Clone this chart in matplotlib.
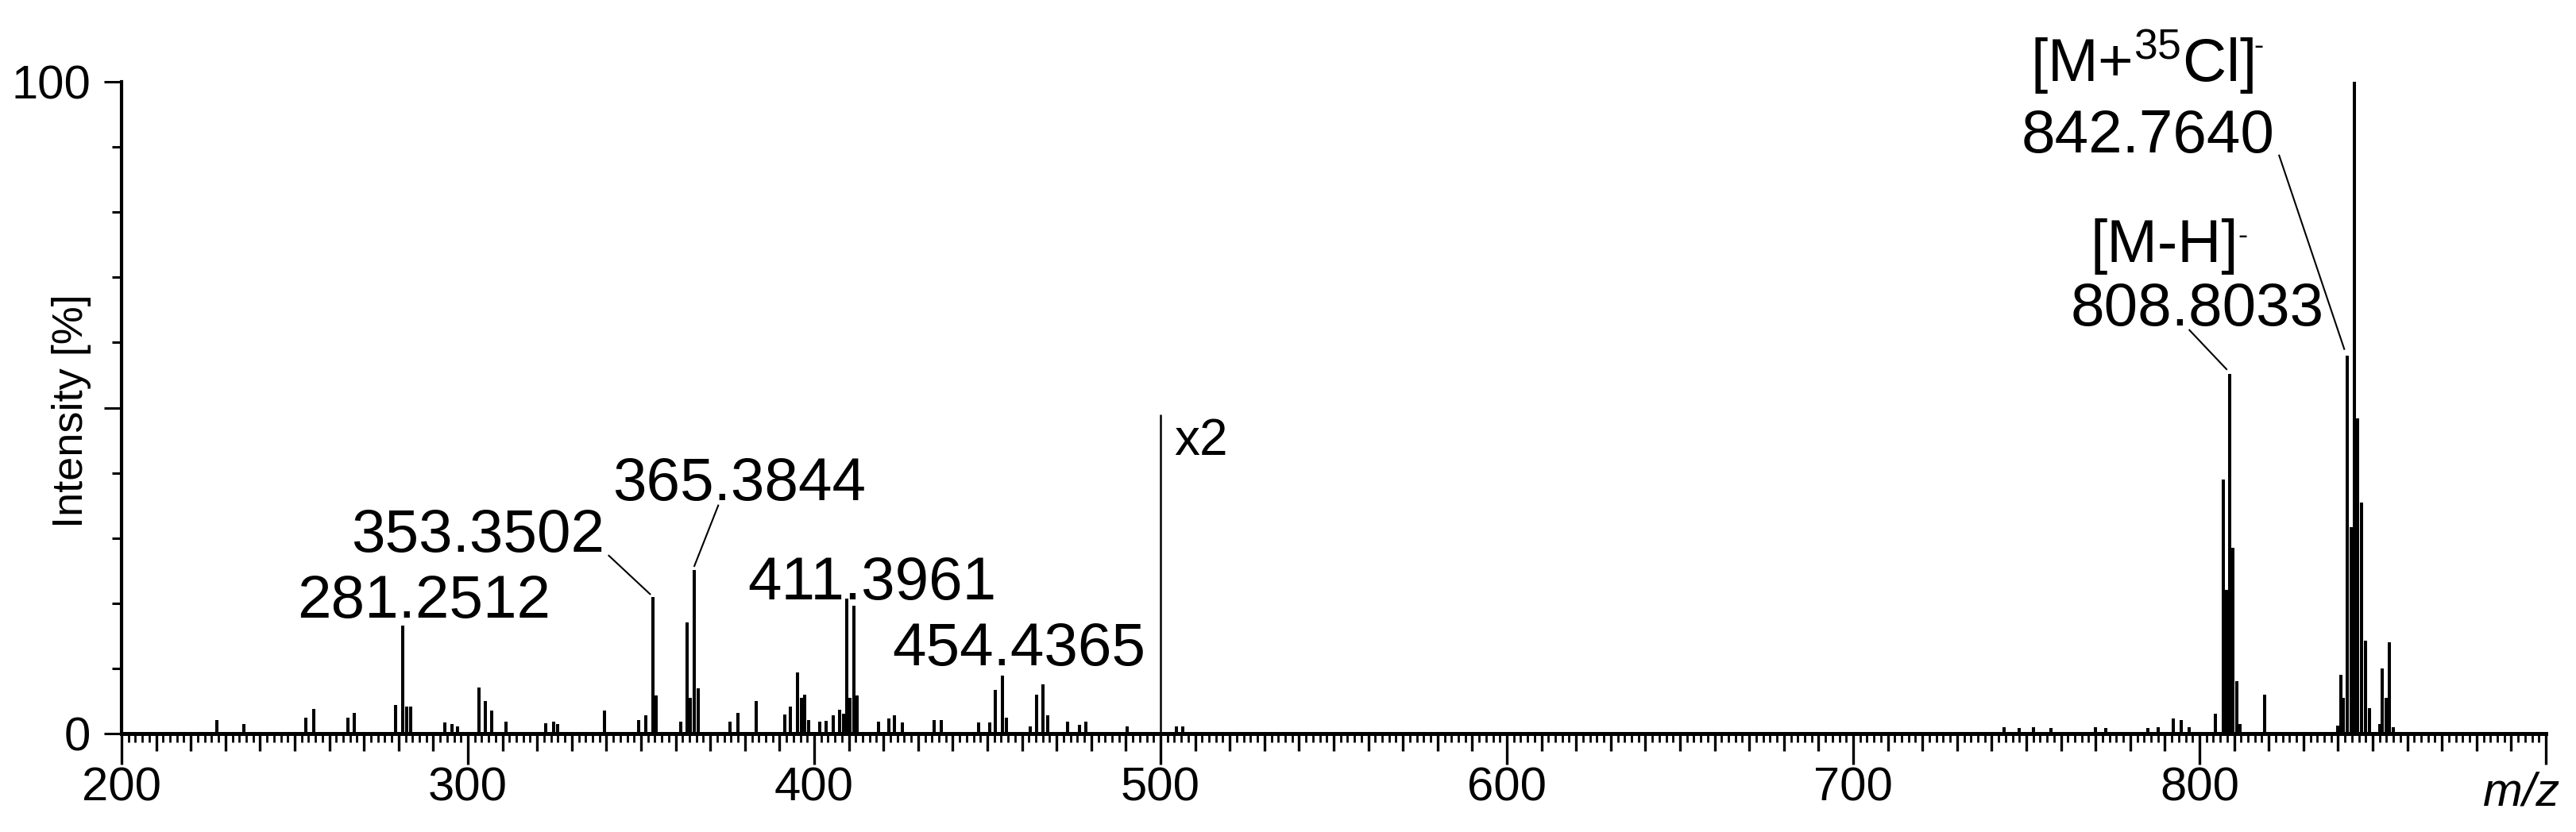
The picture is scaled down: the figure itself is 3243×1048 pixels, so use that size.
import matplotlib
matplotlib.use('Agg')
import matplotlib.pyplot as plt
from matplotlib.ticker import MultipleLocator, FixedLocator, FuncFormatter

plt.rcParams['font.family'] = ['Liberation Sans', 'DejaVu Sans']
plt.rcParams['mathtext.fontset'] = 'custom'
plt.rcParams['mathtext.rm'] = 'Liberation Sans'
plt.rcParams['mathtext.it'] = 'Liberation Sans:italic'

# peak list: m/z and relative intensity [%]
# (the part above m/z 500 is shown magnified x2)
mz = [227.5, 235.3, 253.3, 255.4, 265.3, 267.3, 279.2, 281.25, 282.4, 283.4,
      293.4, 295.3, 297.0, 303.1, 305.1, 306.9, 311.1, 322.5, 324.8, 326.0,
      339.5, 349.4, 351.3, 353.35, 354.4, 361.5, 363.3, 364.3, 365.38, 366.4,
      375.8, 377.9, 383.2, 391.4, 393.1, 395.2, 396.4, 397.2, 398.5, 401.6,
      403.5, 405.4, 407.4, 408.5, 409.4, 410.3, 411.4, 412.3, 418.5, 421.5,
      423.2, 425.4, 434.6, 436.7, 447.5, 450.6, 452.3, 454.44, 455.6, 462.4,
      464.2, 466.0, 467.4, 473.1, 476.5, 478.5, 490.4, 504.5, 506.4,
      743.5, 748.0, 752.0, 757.0, 770.0, 773.0, 785.0, 788.0, 792.5, 794.8,
      797.0, 804.6, 806.9, 807.7, 808.8, 809.7, 810.8, 811.7, 818.8, 839.9,
      840.8, 841.6, 842.76, 843.9, 844.8, 845.7, 846.9, 847.9, 849.0, 852.0,
      852.8, 853.8, 854.9, 856.0]
intensity = [2.1, 1.5, 2.4, 3.8, 2.4, 3.2, 4.4, 16.6, 4.1, 4.1,
             1.7, 1.5, 1.1, 7.1, 5.0, 3.5, 1.8, 1.6, 1.8, 1.5,
             3.5, 2.1, 2.8, 20.9, 5.8, 1.8, 17.0, 5.5, 25.1, 7.0,
             1.8, 3.2, 5.0, 2.9, 4.1, 9.4, 5.5, 6.0, 2.1, 1.8,
             2.0, 2.8, 3.7, 3.1, 20.7, 5.5, 19.6, 5.8, 1.8, 2.3,
             2.8, 1.7, 2.1, 2.1, 1.7, 1.7, 6.7, 8.9, 2.4, 1.1,
             6.0, 7.6, 2.8, 1.8, 1.3, 1.8, 1.1, 1.1, 1.1,
             1.0, 0.9, 1.0, 0.9, 1.0, 0.9, 0.8, 1.0, 2.3, 2.1,
             1.0, 3.0, 39.0, 22.0, 55.2, 28.5, 8.0, 1.5, 6.0, 1.2,
             9.0, 5.5, 58.0, 31.7, 100.0, 48.4, 35.5, 14.2, 3.9, 1.5,
             10.0, 5.5, 14.0, 1.0]

# annotated peaks
peak_labels = ['281.2512', '353.3502', '365.3844', '411.3961', '454.4365',
               '808.8033', '842.7640']
label_x = [287.2, 302.8, 378.3, 416.8, 459.1, 799.4, 785.1]
label_y = [17.8, 27.9, 35.8, 20.6, 10.5, 62.6, 89.2]

ion_labels = ['[M-H]', '[M+$^{35}$Cl]']
ion_x = [789.8, 783.5]
ion_y = [72.3, 100.1]

# leader lines (label -> peak)
leader_x = [(340.7, 352.6), (372.3, 365.4), (797.1, 807.8), (823.0, 841.8)]
leader_y = [(27.3, 21.4), (35.0, 25.7), (61.9, 55.9), (88.7, 59.0)]

scale_mz = 500
scale_height = 49

fig = plt.figure(figsize=(32.43, 10.48), dpi=100)
ax = fig.add_axes([153 / 3243, 124 / 1048, 3052 / 3243, 821 / 1048])

ax.vlines(mz, 0, intensity, color='black', lw=2.9)
ax.vlines(scale_mz, 0, scale_height, color='black', lw=1.8)
ax.text(scale_mz + 4, 42.8, 'x2', fontsize=46, ha='left', va='baseline')

for t, x, y in zip(peak_labels, label_x, label_y):
    ax.text(x, y, t, fontsize=55, ha='center', va='baseline')
for t, x, y in zip(ion_labels, ion_x, ion_y):
    tx = ax.text(x, y, t, fontsize=55, ha='center', va='baseline', clip_on=False)
    # small superscript charge sign
    ax.annotate('-', xy=(1.0, 0.93), xycoords=tx, fontsize=26,
                ha='left', va='top', annotation_clip=False)
for xs, ys in zip(leader_x, leader_y):
    ax.plot(xs, ys, color='black', lw=1.5)

ax.set_xlim(200, 900)
ax.set_ylim(0, 100)
for s in ['top', 'right']:
    ax.spines[s].set_visible(False)
ax.spines['left'].set_linewidth(3)
ax.spines['bottom'].set_linewidth(3.6)

ax.xaxis.set_major_locator(MultipleLocator(100))
ax.xaxis.set_major_formatter(FuncFormatter(lambda v, p: '' if v >= 900 else '%d' % v))
ax.xaxis.set_minor_locator(MultipleLocator(10))
ax.tick_params(axis='x', which='major', length=28, width=2.4, labelsize=43, pad=2)
ax.tick_params(axis='x', which='minor', length=15.5, width=2.4)

ax.yaxis.set_major_locator(FixedLocator([0, 50, 100]))
ax.yaxis.set_major_formatter(FuncFormatter(lambda v, p: '' if v == 50 else '%d' % v))
ax.yaxis.set_minor_locator(MultipleLocator(10))
ax.tick_params(axis='y', which='major', length=16, width=2.2, labelsize=43, pad=12)
ax.tick_params(axis='y', which='minor', length=8.6, width=2.2)

# finest ticks every 2 m/z
ax2 = ax.twiny()
ax2.set_xlim(200, 900)
ax2.xaxis.set_ticks_position('bottom')
ax2.xaxis.set_major_locator(MultipleLocator(2))
ax2.tick_params(axis='x', length=8.2, width=2.0, labelbottom=False, labeltop=False)
ax2.yaxis.set_visible(False)
for s in ax2.spines.values():
    s.set_visible(False)

ax.text(904, -0.1108, 'm/z', style='italic', fontsize=43, ha='right', va='baseline',
        transform=ax.get_xaxis_transform())
fig.text(90 / 3243, 1 - 518 / 1048, 'Intensity [%]', rotation=90, fontsize=39,
         ha='center', va='center')

fig.savefig('out.png', dpi=100)
